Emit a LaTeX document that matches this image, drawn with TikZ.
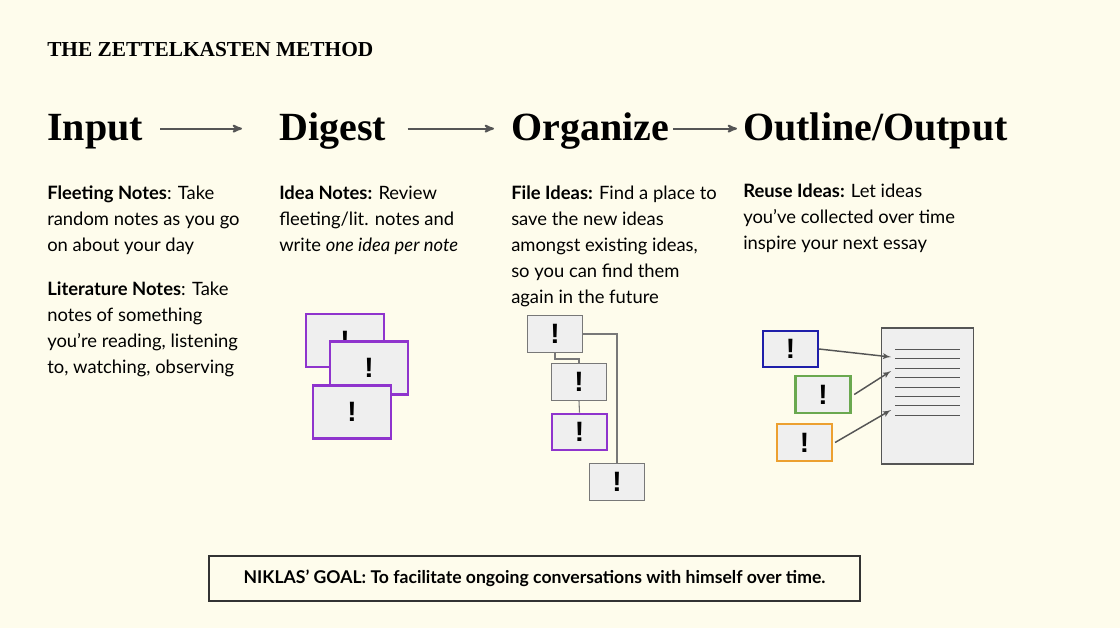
\documentclass[tikz,border=0pt]{standalone}
\usepackage{fontspec}
\setmainfont{Lato}
\newfontfamily\headfont{Liberation Serif}
\newfontfamily\markfont{Liberation Sans}
\usetikzlibrary{arrows,positioning}

\definecolor{paper}{RGB}{254,252,236}
\definecolor{cardfill}{RGB}{239,239,239}
\definecolor{cardline}{RGB}{120,120,120}
\definecolor{ideapurple}{RGB}{143,52,205}
\definecolor{ideablue}{RGB}{30,30,170}
\definecolor{ideagreen}{RGB}{106,168,79}
\definecolor{ideaorange}{RGB}{236,160,48}
\definecolor{arrowgray}{RGB}{85,85,85}

\tikzset{
  heading/.style={inner sep=0pt,anchor=base west,font=\headfont\bfseries\fontsize{30}{30}\selectfont},
  body/.style={inner sep=0pt,anchor=north west,align=left,font=\fontsize{13.8}{19.5}\selectfont},
  card/.style={draw=cardline,fill=cardfill,line width=1pt,minimum width=41.25pt,minimum height=27.5pt,
    inner sep=0pt,font=\markfont\bfseries\fontsize{21}{21}\selectfont},
  bigcard/.style={card,draw=ideapurple,line width=1.8pt,minimum width=58.5pt,minimum height=39.75pt},
  tree/.style={draw=cardline,line width=0.8pt},
  docline/.style={draw=arrowgray,line width=0.8pt},
  feed/.style={->,draw=arrowgray,line width=1.1pt,>=latex'},
  step arrow/.style={->,draw=arrowgray,line width=1.4pt,>=stealth'}
}

\begin{document}
\begin{tikzpicture}[x=0.75pt,y=-0.75pt]
  \useasboundingbox[fill=paper] (0,0) rectangle (1120,628);

  % title and the four steps
  \node[inner sep=0pt,anchor=base west,font=\headfont\bfseries\fontsize{16}{16}\selectfont] (title) at (47,56) {THE ZETTELKASTEN METHOD};
  \node[heading] (input) at (47,140) {Input};
  \node[heading] (digest) at (279,140) {Digest};
  \node[heading] (organize) at (511,140) {Organize};
  \node[heading] (outline) at (743,140) {Outline/Output};

  \draw[step arrow,shorten <=12.75pt,shorten >=27.75pt] ([yshift=6pt]input.mid east) -- ([yshift=6pt]digest.mid west);
  \draw[step arrow,shorten <=16pt,shorten >=12.75pt] ([yshift=6pt]digest.mid east) -- ([yshift=6pt]organize.mid west);
  \draw[step arrow,shorten <=3pt,shorten >=4.5pt] ([yshift=6pt]organize.mid east) -- ([yshift=6pt]outline.mid west);

  % texts under the steps
  \node[body] (fleeting) at (47,186) {\textbf{Fleeting Notes}: Take\\random notes as you go\\on about your day};
  \node[body] (literature) at (47,282) {\textbf{Literature Notes}: Take\\notes of something\\you’re reading, listening\\to, watching, observing};
  \node[body] (ideanotes) at (279,186) {\textbf{Idea Notes:} Review\\fleeting/lit. notes and\\write \textit{one idea per note}};
  \node[body] (fileideas) at (511,186) {\textbf{File Ideas:} Find a place to\\save the new ideas\\amongst existing ideas,\\so you can find them\\again in the future};
  \node[body] (reuse) at (743,184) {\textbf{Reuse Ideas:} Let ideas\\you’ve collected over time\\inspire your next essay};

  % digest: a pile of idea notes
  \node[bigcard] (pile1) at (345,340.5) {!};
  \node[bigcard] (pile2) at (369,368) {!};
  \node[bigcard] (pile3) at (352,412) {!};

  % organize: notes filed in a tree
  \node[card] (noteA) at (555,334) {!};
  \node[card] (noteB) at (579,382) {!};
  \node[card,draw=ideapurple,line width=1.6pt] (noteC) at (579.5,432) {!};
  \node[card] (noteD) at (617,482) {!};

  \draw[tree] (noteA.south) -- ++(0,6) -| (noteB.north);
  \draw[tree] (noteB.south) -- (noteC.north);
  \draw[tree] (noteA.east) -| (noteD.north);

  % output: ideas go into an essay
  \node[card,draw=ideablue,line width=1.6pt] (blue) at (790.5,349) {!};
  \node[card,draw=ideagreen,line width=1.6pt] (green) at (823,394.5) {!};
  \node[card,draw=ideaorange,line width=1.6pt] (orange) at (804.5,442.5) {!};

  \node[draw=arrowgray,fill=cardfill,line width=1pt,minimum width=69pt,minimum height=102pt,inner sep=0pt] (essay) at (927.5,396) {};
  \foreach \y in {349.5,358.5,368.5,377.5,387.5,396.5,405.5,415.5}
    \draw[docline] (895,\y) -- (960,\y);

  \coordinate (in1) at (891,357);
  \coordinate (in2) at (891,371);
  \coordinate (in3) at (891,410);
  \draw[feed] (blue.east) -- (in1);
  \draw[feed] ([xshift=2pt]green.east) -- (in2);
  \draw[feed] ([xshift=1.5pt]orange.east) -- (in3);

  % the goal
  \node[draw=black!80,line width=1pt,minimum width=488.25pt,minimum height=33.75pt,
    font=\bfseries\fontsize{13.2}{13.2}\selectfont] (goal) at (534.5,578.5)
    {NIKLAS’ GOAL: To facilitate ongoing conversations with himself over time.};
\end{tikzpicture}
\end{document}
